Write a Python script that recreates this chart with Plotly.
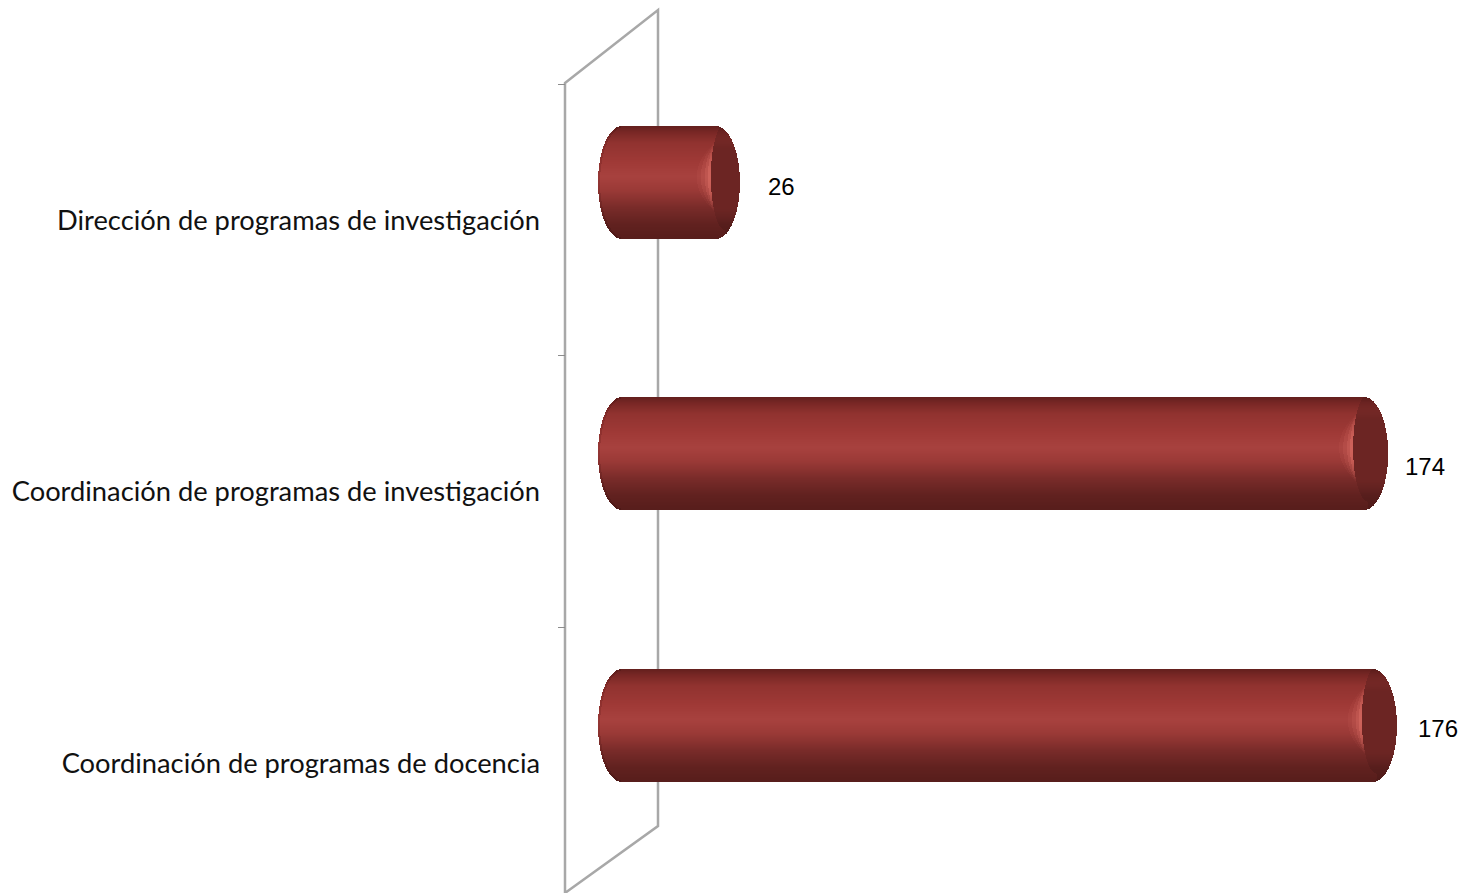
import numpy as np
import plotly.graph_objects as go

# categories listed bottom to top, as on the axis
categories = ['Coordinación de programas de docencia',
              'Coordinación de programas de investigación',
              'Dirección de programas de investigación']
values = [176, 174, 26]

W, H = 1462, 893
PX_PER_VALUE = 4.38
PX_PER_CAT = 271.5
x_range = [-626 / PX_PER_VALUE, (W - 626) / PX_PER_VALUE]
y_range = [-(H - 763) / PX_PER_CAT, 2 + 220 / PX_PER_CAT]

# shape of the cylinders, in pixels
BAR_H = 112
BAR_SHIFT = 38     # the 3d look puts the bars above their tick labels
BASE_PAD = 28      # left end sticks out past zero
END_A = 24         # curve of the round ends
STRIP = 1

# vertical shading of the cylinder, top (-1) to bottom (1)
shade_t = [-1.0, -0.88, -0.7, -0.35, -0.1, 0.15, 0.45, 0.75, 1.0]
shade_r = [100, 122, 145, 160, 168, 155, 122, 98, 88]
shade_g = [32, 40, 51, 58, 66, 58, 44, 34, 30]
shade_b = [30, 38, 48, 55, 63, 55, 42, 32, 28]


def rgb(r, g, b):
    return f'rgb({int(r)},{int(g)},{int(b)})'


def shade(t):
    return (np.interp(t, shade_t, shade_r),
            np.interp(t, shade_t, shade_g),
            np.interp(t, shade_t, shade_b))


layers = {k: dict(y=[], x=[], base=[], offset=[], width=[], color=[])
          for k in ['body', 'rim', 'glow1', 'glow2', 'glow3', 'glow4', 'cap']}


def add_piece(layer, cat, start, end, t, color):
    # start and end are in pixels from the zero of the value axis
    if end <= start:
        return
    d = layers[layer]
    y_px = BAR_SHIFT - t * BAR_H / 2  # pixels above the category centre
    d['y'].append(cat)
    d['x'].append((end - start) / PX_PER_VALUE)
    d['base'].append(start / PX_PER_VALUE)
    d['offset'].append((y_px - STRIP / 2 - 0.3) / PX_PER_CAT)
    d['width'].append((STRIP + 0.6) / PX_PER_CAT)
    d['color'].append(color)


for cat, val in zip(categories, values):
    tip = val * PX_PER_VALUE
    cap_w = 29 if val < 50 else 35
    for t in np.arange(-1 + STRIP / BAR_H, 1, 2 * STRIP / BAR_H):
        s = np.sqrt(1 - t * t)
        inset = END_A * (1 - s)
        r, g, b = shade(t)
        add_piece('body', cat, -BASE_PAD + inset, tip - inset, t, rgb(r, g, b))
        add_piece('rim', cat, -BASE_PAD + inset, -BASE_PAD + inset + 2, t,
                  rgb(r * 0.9, g * 0.86, b * 0.86))

        # dark round end, with the pale crescent on its left edge
        tc = (t + 0.1) / 0.95
        cap_s = np.sqrt(max(0, 1 - tc * tc))
        cap_start = tip - cap_w + 15 * (1 - cap_s)
        fall = max(0, 1 - ((t + 0.1) / 0.6) ** 2)
        for name, reach, mix in [('glow1', 14, 0.12), ('glow2', 10, 0.32),
                                 ('glow3', 6, 0.6), ('glow4', 3, 0.95)]:
            cr = r + (208 - r) * mix * fall
            cg = g + (100 - g) * mix * fall
            cb = b + (92 - b) * mix * fall
            add_piece(name, cat, cap_start - reach * fall, cap_start, t, rgb(cr, cg, cb))

        # the end melts back into the body near the top and bottom edges
        blend = np.clip((abs(t + 0.1) - 0.5) / 0.35, 0, 1)
        k = 1 if t < 0.5 else 1 - (t - 0.5) * 0.35
        add_piece('cap', cat, cap_start, tip - inset, t,
                  rgb(108 * k + (r * 0.9 - 108 * k) * blend,
                      37 * k + (g * 0.9 - 37 * k) * blend,
                      35 * k + (b * 0.9 - 35 * k) * blend))

fig = go.Figure()

for name, d in layers.items():
    fig.add_trace(go.Bar(y=d['y'], x=d['x'], base=d['base'], offset=d['offset'],
                         width=d['width'], orientation='h',
                         marker=dict(color=d['color'], line=dict(width=0)),
                         hoverinfo='skip', showlegend=False))

# data labels sit next to the bar ends
label_shift = [(41, -3), (37, -13), (42, -4)]
for cat, val, (dx, dy) in zip(categories, values, label_shift):
    fig.add_annotation(x=val, y=cat, text=str(val), showarrow=False,
                       xanchor='center', yanchor='middle',
                       xshift=dx, yshift=BAR_SHIFT + dy,
                       font=dict(family='Liberation Sans', size=24, color='black'))


def px(x):
    return x / W


def py(y):
    return 1 - y / H


# back wall of the 3d chart
wall = f'M {px(565)} {py(83)} L {px(658)} {py(10)} L {px(658)} {py(826)} L {px(565)} {py(893)} Z'
fig.add_shape(type='path', path=wall, xref='paper', yref='paper',
              line=dict(color='#a8a8a8', width=2.5), layer='below')

fig.update_layout(width=W, height=H, margin=dict(l=0, r=0, t=0, b=0),
                  barmode='overlay', bargap=0,
                  paper_bgcolor='white', plot_bgcolor='white',
                  xaxis=dict(range=x_range, visible=False, domain=[0, 1]),
                  yaxis=dict(type='category', range=y_range,
                             categoryorder='array', categoryarray=categories,
                             anchor='free', position=565 / W,
                             tickson='boundaries', ticks='outside', ticklen=7,
                             tickcolor='#8c8c8c', tickwidth=1,
                             showgrid=False, zeroline=False, showline=False,
                             ticklabelstandoff=25,
                             tickfont=dict(family='Lato', size=27.3, color='#111111')))

fig.write_html("out.html", config=dict(displayModeBar=False),
               post_script="document.body.style.margin='0';")
